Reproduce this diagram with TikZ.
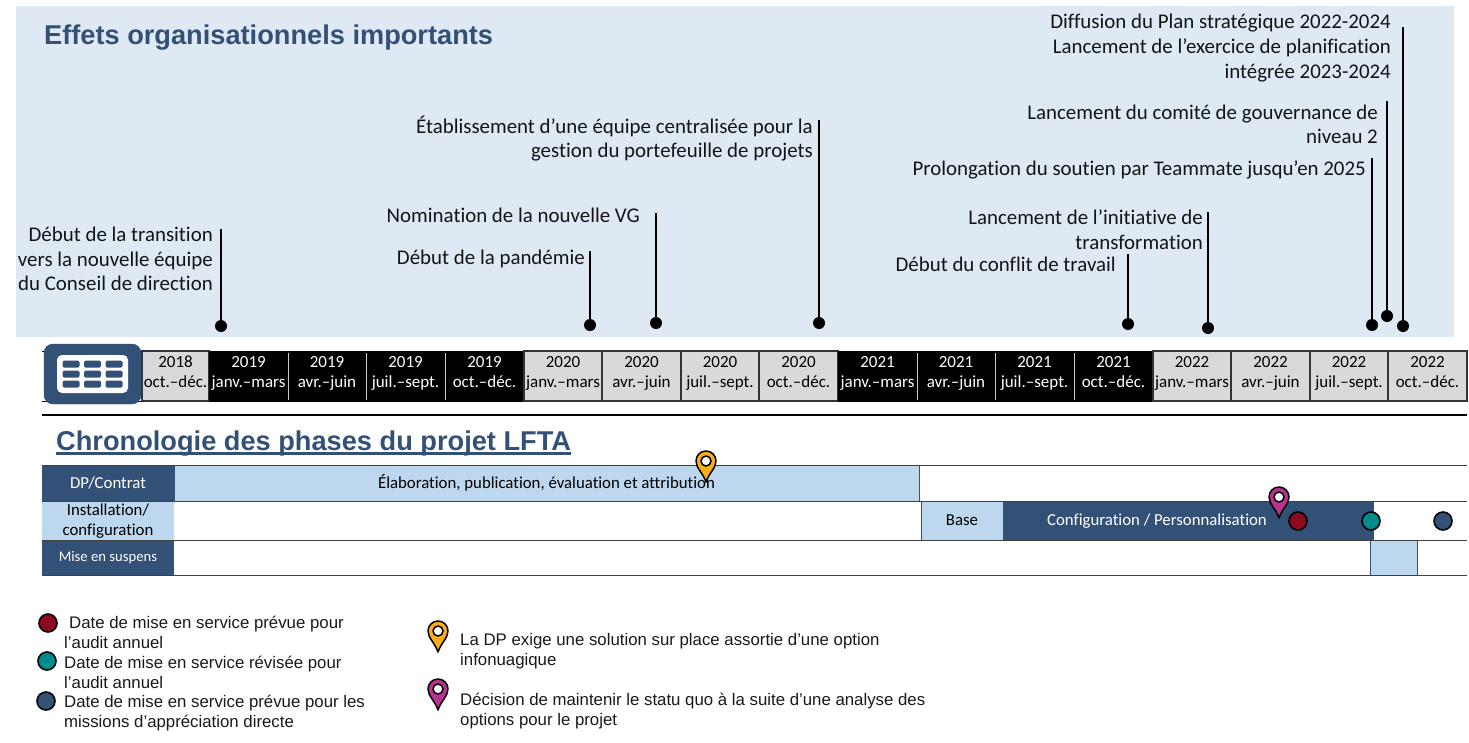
\documentclass[tikz,border=0pt]{standalone}
\usepackage{fontspec}
\setmainfont[Ligatures=NoCommon]{Carlito}
\newfontfamily\arialfont{Liberation Sans}
\usepackage{xcolor}
\usetikzlibrary{positioning, arrows.meta}
\definecolor{panelblue}{HTML}{DFE9F4}
\definecolor{navy}{HTML}{335077}
\definecolor{lightbar}{HTML}{BDD7EE}
\definecolor{cellgray}{HTML}{D9D9D9}
\definecolor{darkred}{HTML}{8E0A1E}
\definecolor{teal2}{HTML}{008C8C}
\definecolor{amber}{HTML}{F9AE19}
\definecolor{magenta2}{HTML}{B8328F}

\begin{document}
\begin{tikzpicture}[
    x=1pt, y=-1pt,
    evtext/.style={anchor=east, align=right, inner sep=0pt, text=black!92,
                   font=\fontsize{20.9}{24.6}\selectfont},
    evdot/.style={circle, fill=black, inner sep=0pt, minimum size=12pt},
    lead/.style={line width=2pt},
    calblack/.style={fill=black, draw=black, line width=1pt},
    calgray/.style={fill=cellgray, draw=black!80, line width=1.4pt},
    rowline/.style={draw=black!75, line width=1pt},
    headtitle/.style={anchor=west, inner sep=0pt, text=navy,
                      font=\arialfont\bfseries\fontsize{27.2}{30}\selectfont},
    rowdark/.style={fill=navy, text=white, align=center, inner sep=0pt,
                    font=\fontsize{16.8}{19}\selectfont},
    barlight/.style={fill=lightbar, draw=navy, line width=0.6pt, align=center,
                     inner sep=0pt, font=\fontsize{16.8}{19}\selectfont},
    bardark/.style={fill=navy, text=white, align=center, inner sep=0pt,
                    font=\fontsize{16.8}{19}\selectfont},
    mark dot/.style={circle, draw=black, line width=1.6pt, inner sep=0pt, minimum size=18pt},
    legtext/.style={anchor=west, align=left, inner sep=0pt, text=black!90,
                    font=\arialfont\fontsize{16.8}{20}\selectfont},
    pinmark/.pic={
        \path[fill=#1, draw=black, line width=1.5pt, line join=round]
            (0,0) .. controls (-3,-9) and (-10,-14) .. (-10,-21)
            arc[start angle=180, end angle=360, radius=10]
            .. controls (10,-14) and (3,-9) .. (0,0) -- cycle;
        \path[fill=white, draw=black, line width=1.5pt] (0,-21) circle (5);
    },
]
    \useasboundingbox (0,0) rectangle (1469,742);

    % effets
    \node[fill=panelblue, minimum width=1438pt, minimum height=331pt, inner sep=0pt] (panel) at (735,171.5) {};
    \node[headtitle] (title) at (44,38) {Effets organisationnels importants};

    \foreach \i/\xx/\yt/\yd/\tx/\ty/\lab in {
        1/221/229/326/213/259/{Début de la transition\\vers la nouvelle équipe\\du Conseil de direction},
        2/590/251/325/585/259/{Début de la pandémie},
        3/656/213/323/640/215/{Nomination de la nouvelle VG},
        4/819/120/323/813/138.5/{Établissement d’une équipe centralisée pour la\\gestion du portefeuille de projets},
        5/1128/254/324/1116/264/{Début du conflit de travail},
        6/1208/212/328/1203/230/{Lancement de l’initiative de\\transformation},
        7/1372/158/325/1366/170/{Prolongation du soutien par Teammate jusqu’en 2025},
        8/1387/101/316/1378/124.5/{Lancement du comité de gouvernance de\\niveau 2},
        9/1403/27/326/1391/48/{Diffusion du Plan stratégique 2022-2024\\Lancement de l’exercice de planification\\intégrée 2023-2024}}
    {
        \node[evtext] (ev\i) at (\tx,\ty) {\lab};
        \coordinate (top\i) at (\xx,\yt);
        \node[evdot] (dot\i) at (\xx,\yd) {};
        \draw[lead] (top\i) -- (dot\i);
    }

    % calendrier
    \coordinate (calA) at (42,351);
    \coordinate (calB) at (142,351);
    \coordinate (calC) at (42,401);
    \coordinate (calD) at (142,401);
    \draw[line width=1pt] (calA) -- (calB);
    \draw[line width=1pt] (calC) -- (calD);
    \foreach \i/\xl/\xr/\yr/\per/\st/\tc in {
        1/142/209/2018/oct.–déc./calgray/black,
        2/209/288/2019/janv.–mars/calblack/white,
        3/288/366/2019/avr.–juin/calblack/white,
        4/366/445/2019/juil.–sept./calblack/white,
        5/445/524/2019/oct.–déc./calblack/white,
        6/524/602/2020/janv.–mars/calgray/black,
        7/602/681/2020/avr.–juin/calgray/black,
        8/681/759/2020/juil.–sept./calgray/black,
        9/759/838/2020/oct.–déc./calgray/black,
        10/838/917/2021/janv.–mars/calblack/white,
        11/917/995/2021/avr.–juin/calblack/white,
        12/995/1074/2021/juil.–sept./calblack/white,
        13/1074/1153/2021/oct.–déc./calblack/white,
        14/1153/1231/2022/janv.–mars/calgray/black,
        15/1231/1310/2022/avr.–juin/calgray/black,
        16/1310/1388/2022/juil.–sept./calgray/black,
        17/1388/1467/2022/oct.–déc./calgray/black}
    {
        \pgfmathsetmacro{\cw}{\xr-\xl}
        \node[\st, minimum width=\cw pt, minimum height=50pt, inner sep=0pt] (cell\i) at ({(\xl+\xr)/2},376) {};
        \node[text=\tc, align=center, inner sep=0pt, font=\fontsize{17}{20}\selectfont] (lab\i) at ({(\xl+\xr)/2},373) {\strut\yr\\\strut\per};
    }
    \foreach \a/\b in {2/3,3/4,4/5,10/11,11/12,12/13}
        \draw[white!80!black, line width=1pt] ([yshift=-2pt]cell\a.north east) -- ([yshift=2pt]cell\a.south east);

    \node[fill=navy, draw=navy, rounded corners=9pt, minimum width=97pt, minimum height=60pt, inner sep=0pt] (calicon) at (92.5,374) {};
    \node[fill=white, rounded corners=5pt, minimum width=71pt, minimum height=38pt, inner sep=0pt] (calface) at (92.5,374) {};
    \foreach \cx in {71,92.5,114}
        \foreach \cy in {364,374,384}
            \node[fill=navy, rounded corners=1.5pt, minimum width=17pt, minimum height=7pt, inner sep=0pt] (cal\cx-\cy) at (\cx,\cy) {};

    \coordinate (sepL) at (42,415);
    \coordinate (sepR) at (1467,415);
    \draw[line width=1.4pt] (sepL) -- (sepR);

    % phases
    \node[headtitle] (phases) at (56,444) {Chronologie des phases du projet LFTA};
    \draw[navy, line width=2.2pt] ([yshift=-2.5pt]phases.base west) -- ([yshift=-2.5pt]phases.base east);

    \node[rowdark, minimum width=132pt, minimum height=36pt] (rowA) at (108,483) {DP/Contrat};
    \node[fill=lightbar, align=center, inner sep=0pt, minimum width=132pt, minimum height=39pt,
          font=\fontsize{16.8}{20}\selectfont] (rowB) at (108,521) {Installation/\\configuration};
    \node[rowdark, minimum width=132pt, minimum height=35pt, font=\fontsize{14.7}{16}\selectfont] (rowC) at (108,557.5) {Mise en suspens};

    \node[barlight, minimum width=745pt, minimum height=36pt] (barA) at (546.5,483) {Élaboration, publication, évaluation et attribution};
    \node[barlight, minimum width=82pt, minimum height=39pt] (barB) at (962,520.5) {Base};
    \node[bardark, minimum width=371pt, minimum height=39pt] (barC) at (1188.5,520.5) {};
    \node[text=white, inner sep=0pt, font=\fontsize{16.8}{19}\selectfont] (barCt) at (1157,521.5) {Configuration / Personnalisation};
    \node[barlight, minimum width=47pt, minimum height=35pt] (barD) at (1393.5,557.5) {};

    \foreach \j/\yy in {1/465,2/501,3/540,4/575} {
        \coordinate (lnL\j) at (42,\yy);
        \coordinate (lnR\j) at (1467,\yy);
        \draw[rowline] (lnL\j) -- (lnR\j);
    }

    \pic at (706,482) {pinmark=amber};
    \pic at (1279,518) {pinmark=magenta2};
    \node[mark dot, fill=darkred] (mkA) at (1298,521) {};
    \node[mark dot, fill=teal2] (mkB) at (1371,521) {};
    \node[mark dot, fill=navy] (mkC) at (1443,521) {};

    % legende
    \node[mark dot, fill=darkred] (legA) at (48,623) {};
    \node[mark dot, fill=teal2] (legB) at (47,661) {};
    \node[mark dot, fill=navy] (legC) at (46,701) {};
    \node[legtext] (legAt) at (64,632) {\hspace{5pt}Date de mise en service prévue pour\\l’audit annuel};
    \node[legtext] (legBt) at (64,672) {Date de mise en service révisée pour\\l’audit annuel};
    \node[legtext] (legCt) at (64,713) {Date de mise en service prévue pour les\\missions d’appréciation directe};

    \pic at (438,652) {pinmark=amber};
    \pic at (438,710) {pinmark=magenta2};
    \node[legtext] (legDt) at (460,651) {La DP exige une solution sur place assortie d’une option\\infonuagique};
    \node[legtext] (legEt) at (460,711) {Décision de maintenir le statu quo à la suite d’une analyse des\\options pour le projet};
\end{tikzpicture}
\end{document}
